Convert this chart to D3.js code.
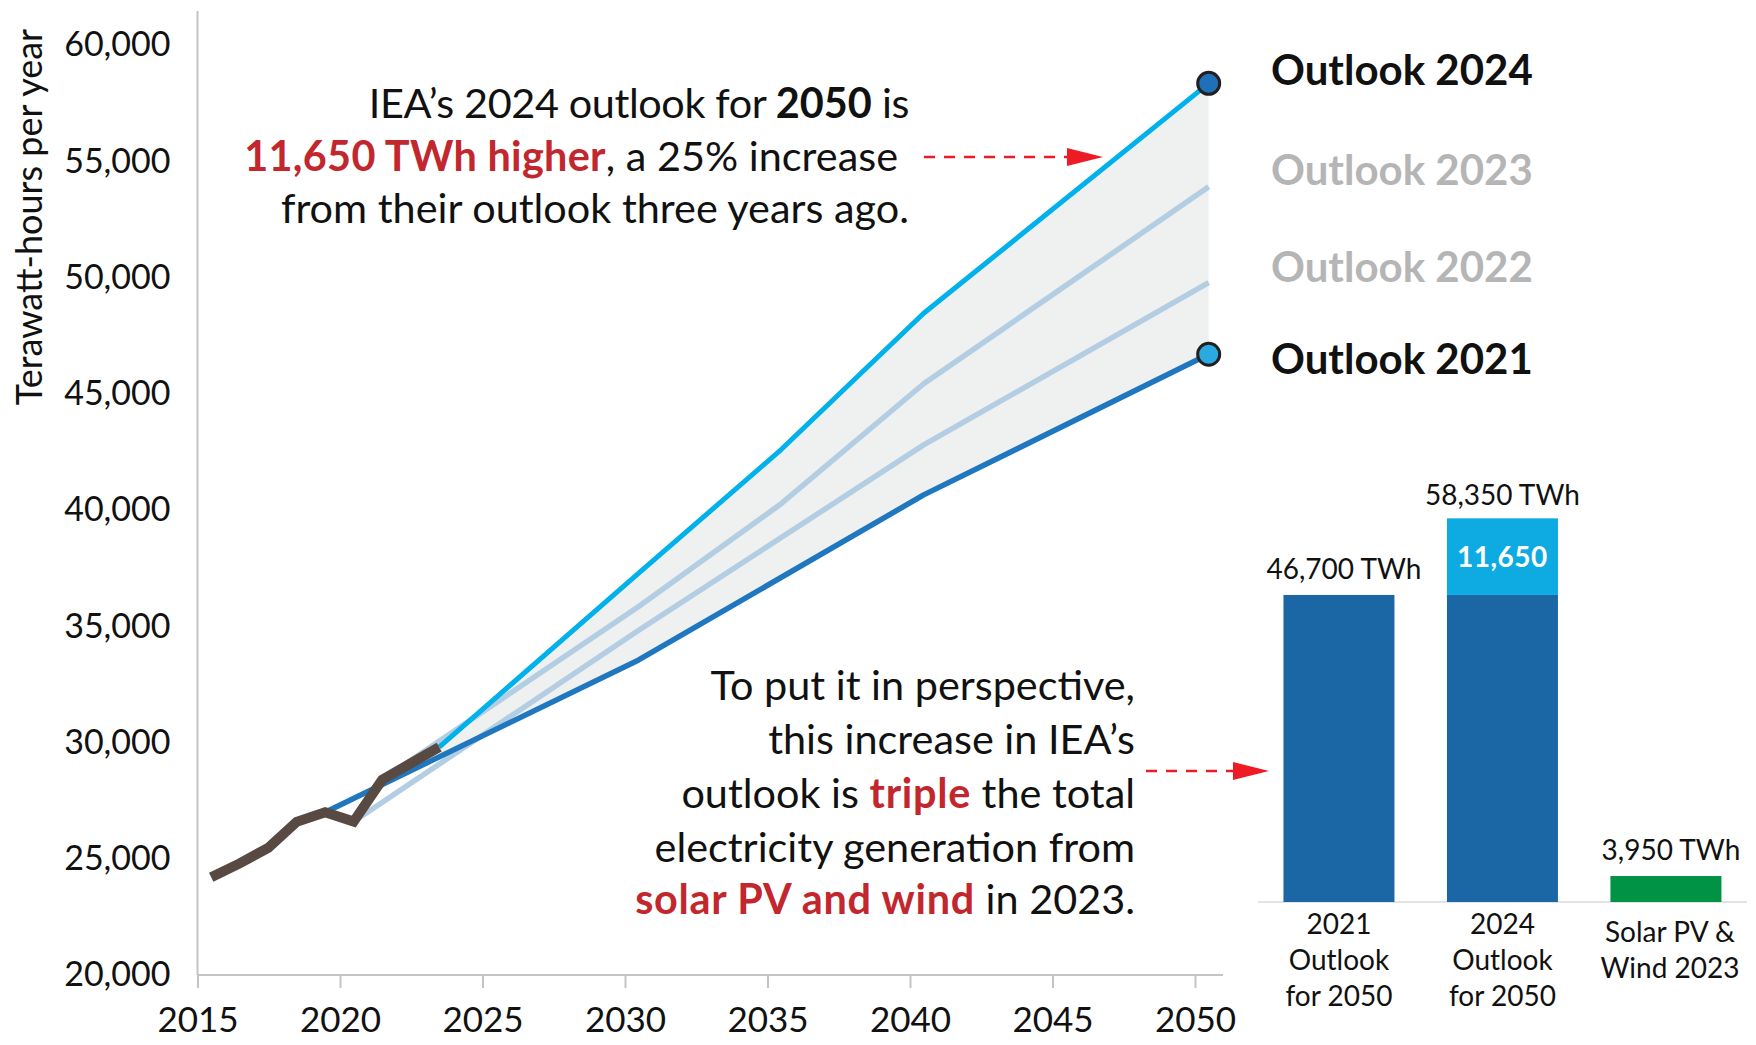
<!DOCTYPE html>
<html><head><meta charset="utf-8">
<script src="https://cdn.jsdelivr.net/npm/d3@7"></script>
<style>
body{margin:0;background:#fff;}
svg{display:block;font-family:Lato,"Noto Sans",sans-serif;}
</style></head><body>
<svg id="chart" width="1756" height="1045"></svg>
<script>
// ---------- data ----------
const histYears  = [2015, 2016, 2017, 2018, 2019, 2020, 2021, 2022, 2023];
const histValues = [24200, 24800, 25470, 26590, 27000, 26600, 28400, 29100, 29800];

const outlook2021Years  = [2019, 2030, 2040, 2050];
const outlook2021Values = [27000, 33550, 40650, 46700];
const outlook2022Years  = [2020, 2030, 2040, 2050];
const outlook2022Values = [26600, 34830, 42800, 49780];
const outlook2023Years  = [2021, 2030, 2035, 2040, 2050];
const outlook2023Values = [28400, 35850, 40270, 45430, 53900];
const outlook2024Years  = [2023, 2030, 2035, 2040, 2050];
const outlook2024Values = [29800, 37280, 42600, 48460, 58350];

const xTickYears = [2015, 2020, 2025, 2030, 2035, 2040, 2045, 2050];
const yTickValues = [20000, 25000, 30000, 35000, 40000, 45000, 50000, 55000, 60000];

const legendLabels = ["Outlook 2024", "Outlook 2023", "Outlook 2022", "Outlook 2021"];

const barCategories = ["2021 Outlook for 2050", "2024 Outlook for 2050", "Solar PV & Wind 2023"];
const barCategoryLines = [["2021", "Outlook", "for 2050"], ["2024", "Outlook", "for 2050"], ["Solar PV &", "Wind 2023"]];
const barBaseValues = [46700, 46700, 3950];
const barIncreaseValues = [0, 11650, 0];
const barTotalLabels = ["46,700 TWh", "58,350 TWh", "3,950 TWh"];
const barIncreaseLabel = "11,650";

// ---------- setup ----------
const svg = d3.select("#chart");
const x = d3.scaleLinear().domain([2015, 2050]).range([197.5, 1195]);
const y = d3.scaleLinear().domain([20000, 60000]).range([975, 45]);
const mid = 0.48; // points sit mid-year

const C = {
  cyan: "#00b1ec", dark: "#1f77c0", light: "#b3cde3", brown: "#584a42",
  fill: "#eff1f1", axis: "#c4c4c4", red: "#ed1c24", redText: "#c1272d",
  barDark: "#1b67a6", barCyan: "#0eaae2", green: "#009245"
};

const zip = (ys, vs) => ys.map((yr, i) => ({year: yr, value: vs[i]}));
const hist = zip(histYears, histValues);
const o21 = zip(outlook2021Years, outlook2021Values);
const o22 = zip(outlook2022Years, outlook2022Values);
const o23 = zip(outlook2023Years, outlook2023Values);
const o24 = zip(outlook2024Years, outlook2024Values);

const line = d3.line().x(d => x(d.year + mid)).y(d => y(d.value)).curve(d3.curveLinear);

// ---------- shaded band between 2024 and 2021 outlooks ----------
function valueAt(series, yr) {
  for (let i = 0; i < series.length - 1; i++) {
    const a = series[i], b = series[i + 1];
    if (yr >= a.year && yr <= b.year) return d3.interpolateNumber(a.value, b.value)((yr - a.year) / (b.year - a.year));
  }
  return series[series.length - 1].value;
}
const startYr = o24[0].year;
const lowerPts = [{year: startYr, value: valueAt(o21, startYr)}].concat(o21.filter(d => d.year > startYr));
const bandPts = o24.concat(lowerPts.slice().reverse());
svg.append("path").attr("d", line(bandPts) + "Z").attr("fill", C.fill);

// ---------- axes ----------
const gx = svg.append("g").attr("transform", `translate(0,${y(20000)})`)
  .call(d3.axisBottom(x).tickValues(xTickYears).tickFormat(d3.format("d")).tickSize(13).tickSizeOuter(0).tickPadding(19));
gx.select(".domain").attr("d", `M${x(2015)},0H1223`).attr("stroke", C.axis).attr("stroke-width", 2);
gx.selectAll(".tick line").attr("stroke", C.axis).attr("stroke-width", 2);
gx.selectAll(".tick text").attr("font-size", 35).attr("fill", "#111").attr("font-family", "Lato");

const gy = svg.append("g").attr("transform", `translate(${x(2015)},0)`)
  .call(d3.axisLeft(y).tickValues(yTickValues).tickFormat(d3.format(",")).tickSize(0).tickPadding(27));
gy.select(".domain").attr("d", `M0,11V${y(20000)}`).attr("stroke", C.axis).attr("stroke-width", 2);
gy.selectAll(".tick text").attr("font-size", 34).attr("fill", "#111").attr("font-family", "Lato");

svg.append("text").attr("transform", `translate(42,217) rotate(-90)`)
  .attr("text-anchor", "middle").attr("font-size", 36).attr("fill", "#111")
  .text("Terawatt-hours per year");

// ---------- lines ----------
const drawLine = (data, color, w) => svg.append("path").attr("d", line(data))
  .attr("fill", "none").attr("stroke", color).attr("stroke-width", w)
  .attr("stroke-linejoin", "round");
drawLine(o22, C.light, 5.5);
drawLine(o23, C.light, 5.5);
drawLine(o21, C.dark, 5.5);
drawLine(o24, C.cyan, 5);
drawLine(hist, C.brown, 10).attr("stroke-linejoin", "miter");

// end dots
const last24 = o24[o24.length - 1], last21 = o21[o21.length - 1];
svg.append("circle").attr("cx", x(last24.year + mid)).attr("cy", y(last24.value)).attr("r", 11)
  .attr("fill", "#1f70b9").attr("stroke", "#231f20").attr("stroke-width", 3);
svg.append("circle").attr("cx", x(last21.year + mid)).attr("cy", y(last21.value)).attr("r", 11)
  .attr("fill", "#29abe2").attr("stroke", "#231f20").attr("stroke-width", 3);

// ---------- legend ----------
const legendColors = ["#111", "#b5b5b5", "#b5b5b5", "#111"];
const legendBaselines = [85, 185, 282, 374];
legendLabels.forEach((t, i) => {
  svg.append("text").attr("x", 1271).attr("y", legendBaselines[i])
    .attr("font-size", 42).attr("font-weight", 700).attr("fill", legendColors[i]).text(t);
});

// ---------- annotations ----------
function richLine(xr, yb, parts, size, ls = 0, bls = 0.7) {
  const t = svg.append("text").attr("x", xr).attr("y", yb).attr("text-anchor", "end")
    .attr("font-size", size).attr("fill", "#111");
  parts.forEach(p => {
    t.append("tspan").text(p.t)
      .attr("font-weight", p.b ? 700 : 400)
      .attr("letter-spacing", p.b ? bls : ls)
      .attr("fill", p.r ? C.redText : "#111");
  });
}
const fs = 41.4;
richLine(909, 118, [{t: "IEA’s 2024 outlook for "}, {t: "2050", b: 1}, {t: " is"}], fs, -0.4, 0);
richLine(898, 171, [{t: "11,650 TWh higher", b: 1, r: 1}, {t: ", a 25% increase"}], fs, 0, 0.3);
richLine(909, 223, [{t: "from their outlook three years ago."}], fs);

richLine(1135, 700, [{t: "To put it in perspective,"}], fs);
richLine(1135, 754, [{t: "this increase in IEA’s"}], fs);
richLine(1135, 808, [{t: "outlook is "}, {t: "triple", b: 1, r: 1}, {t: " the total"}], fs);
richLine(1135, 862, [{t: "electricity generation from"}], fs);
richLine(1135, 914, [{t: "solar PV and wind", b: 1, r: 1}, {t: " in 2023."}], fs);

function arrow(x0, x1, yy) {
  svg.append("line").attr("x1", x0).attr("x2", x1 - 34).attr("y1", yy).attr("y2", yy)
    .attr("stroke", C.red).attr("stroke-width", 2.6).attr("stroke-dasharray", "11 9");
  svg.append("path").attr("d", `M${x1 - 36},${yy - 9}L${x1},${yy}L${x1 - 36},${yy + 9}Z`).attr("fill", C.red);
}
arrow(924, 1103, 157);
arrow(1146, 1269, 771);

// ---------- bar chart ----------
const bx = d3.scaleBand().domain(barCategories).range([1257.3, 1747.6]).paddingInner(0.321).paddingOuter(0.16);
const by = d3.scaleLinear().domain([0, 60000]).range([902, 507.5]);
const barColors = [C.barDark, C.barDark, C.green];

svg.append("line").attr("x1", 1258).attr("x2", 1747).attr("y1", 902).attr("y2", 902)
  .attr("stroke", "#e4e4e4").attr("stroke-width", 2);

barCategories.forEach((c, i) => {
  svg.append("rect").attr("x", bx(c)).attr("width", bx.bandwidth())
    .attr("y", by(barBaseValues[i])).attr("height", by(0) - by(barBaseValues[i]))
    .attr("fill", barColors[i]);
  if (barIncreaseValues[i] > 0) {
    const top = barBaseValues[i] + barIncreaseValues[i];
    svg.append("rect").attr("x", bx(c)).attr("width", bx.bandwidth())
      .attr("y", by(top)).attr("height", by(barBaseValues[i]) - by(top))
      .attr("fill", C.barCyan);
    svg.append("text").attr("x", bx(c) + bx.bandwidth() / 2).attr("y", (by(top) + by(barBaseValues[i])) / 2 + 10)
      .attr("text-anchor", "middle").attr("font-size", 28).attr("font-weight", 700).attr("fill", "#fff")
      .attr("letter-spacing", 0.5).text(barIncreaseLabel);
  }
  const total = barBaseValues[i] + barIncreaseValues[i];
  svg.append("text").attr("x", bx(c) + bx.bandwidth() / 2 + (i === 1 ? 0 : 5)).attr("y", by(total) - (i === 1 ? 13 : 16))
    .attr("text-anchor", "middle").attr("font-size", 28).attr("fill", "#111").text(barTotalLabels[i]);
  const lines = barCategoryLines[i];
  const y0 = lines.length === 3 ? 934 : 942;
  lines.forEach((l, j) => {
    svg.append("text").attr("x", bx(c) + bx.bandwidth() / 2 + (lines.length === 2 ? 4 : 0)).attr("y", y0 + j * 36)
      .attr("text-anchor", "middle").attr("font-size", 28).attr("fill", "#111").text(l);
  });
});
</script>
</body></html>
